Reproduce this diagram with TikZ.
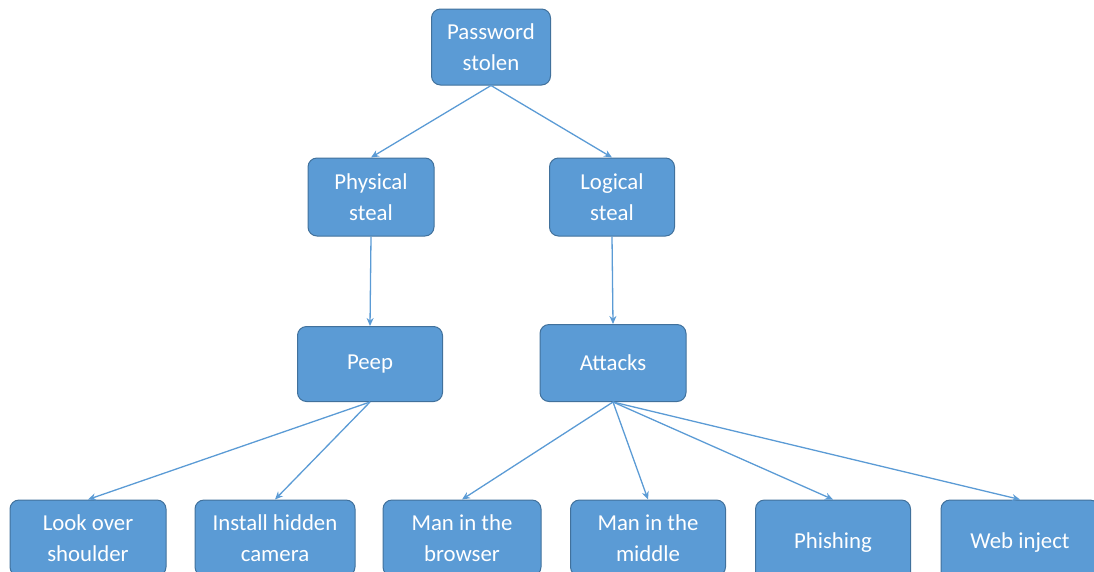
\documentclass[tikz,border=0pt]{standalone}
\usepackage{fontspec}
\setmainfont{Carlito}
\usetikzlibrary{arrows.meta}
\definecolor{boxfill}{HTML}{5B9BD5}
\definecolor{boxline}{HTML}{41719C}
\definecolor{arrowc}{HTML}{5B9BD5}
\tikzset{
  box/.style={draw=boxline, line width=1pt, fill=boxfill, rounded corners=9pt,
    text=white, align=center, inner sep=2pt,
    font=\fontsize{22.8}{31}\selectfont},
  conn/.style={draw=arrowc, line width=1.3pt, -{Stealth[length=8pt,width=7pt]}}
}
\begin{document}
\begin{tikzpicture}[x=1pt,y=-1pt]
\useasboundingbox (0,0) rectangle (1094,571);
\begin{scope}
\clip (0,0) rectangle (1094,571);
\node[box, minimum width=119pt, minimum height=76pt] (pw) at (491,47) {Password\\stolen};
\node[box, minimum width=126pt, minimum height=78pt] (ph) at (371,197) {Physical\\steal};
\node[box, minimum width=125pt, minimum height=78pt] (lo) at (612,197) {Logical\\steal};
\node[box, minimum width=145pt, minimum height=75pt] (pe) at (370,364) {Peep};
\node[box, minimum width=146pt, minimum height=77pt] (at) at (613,363) {Attacks};
\node[box, minimum width=156pt, minimum height=76pt] (lk) at (88,538) {Look over\\shoulder};
\node[box, minimum width=160pt, minimum height=76pt] (ih) at (275,538) {Install hidden\\camera};
\node[box, minimum width=158pt, minimum height=76pt] (mb) at (462,538) {Man in the\\browser};
\node[box, minimum width=155pt, minimum height=76pt] (mm) at (648,538) {Man in the\\middle};
\node[box, minimum width=155pt, minimum height=86pt] (phi) at (833,543) {Phishing};
\node[box, minimum width=158pt, minimum height=86pt] (wi) at (1020,543) {Web inject};
\end{scope}
\draw[conn] (pw.south) -- (ph.north);
\draw[conn] (pw.south) -- (lo.north);
\draw[conn] (ph.south) -- (pe.north);
\draw[conn] (lo.south) -- (at.north);
\draw[conn] (pe.south) -- (lk.north);
\draw[conn] (pe.south) -- (ih.north);
\draw[conn] (at.south) -- (mb.north);
\draw[conn] (at.south) -- (mm.north);
\draw[conn] (at.south) -- (phi.north);
\draw[conn] (at.south) -- (wi.north);
\end{tikzpicture}
\end{document}
